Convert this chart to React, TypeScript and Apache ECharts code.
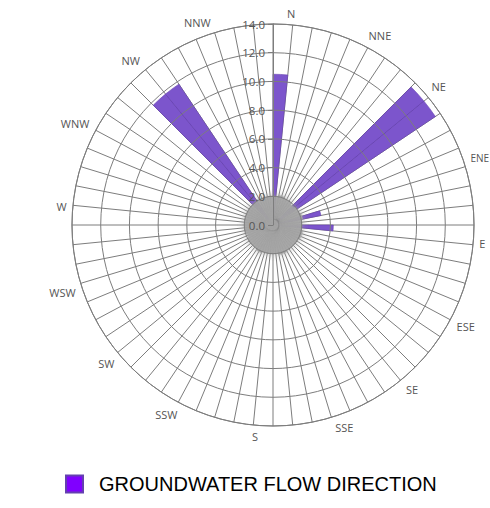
import React, { useEffect, useRef } from "react";
import * as echarts from "echarts";

// 16 compass directions (labels)
const directions = ["N", "NNE", "NE", "ENE", "E", "ESE", "SE", "SSE", "S", "SSW", "SW", "WSW", "W", "WNW", "NW", "NNW"];

// 64 angular bins (5.625 degrees each), starting at North, clockwise
const bins = Array.from({ length: 64 }, (_, i) => String(i));

// Flow-direction frequencies per bin
const flowValues = [
  10.5, 0, 0, 0, 0, 0, 0, 0,
  13.6, 13.6, 0, 0, 0, 3.4, 0, 0,
  4.2, 0, 0, 0, 0, 0, 0, 0,
  0, 0, 0, 0, 0, 0, 0, 0,
  0, 0, 0, 0, 0, 0, 0, 0,
  0, 0, 0, 0, 0, 0, 0, 0,
  0, 0, 0, 0, 0, 0, 0, 0,
  11.8, 11.8, 0, 0, 0, 0, 0, 0,
];

// Grey core around the centre
const coreValues = [
  2.0, 2.0, 2.1, 2.1, 2.0, 2.0, 2.0, 1.9,
  1.9, 2.0, 2.0, 2.0, 2.1, 2.1, 2.0, 2.0,
  2.0, 2.0, 2.1, 2.1, 2.1, 2.0, 2.0, 2.0,
  2.0, 2.0, 2.0, 2.1, 2.1, 2.1, 2.0, 2.0,
  2.0, 2.0, 2.0, 2.0, 2.1, 2.1, 2.0, 2.0,
  2.0, 2.0, 2.0, 1.9, 1.9, 2.0, 2.0, 2.0,
  2.0, 2.0, 2.0, 2.0, 2.0, 2.0, 2.0, 2.0,
  2.0, 2.0, 2.0, 2.0, 2.0, 2.0, 2.0, 2.0,
];

const radialMin = 0;
const radialMax = 14;
const radialStep = 2;

const seriesName = "GROUNDWATER FLOW DIRECTION";

export default function App() {
  const ref = useRef<HTMLDivElement>(null);

  useEffect(() => {
    if (!ref.current) return;
    const chart = echarts.init(ref.current, undefined, { renderer: "svg" });
    const gridColor = "#7d7d7d";
    const labelFont = "'Open Sans', sans-serif";
    chart.setOption({
      animation: false,
      backgroundColor: "#ffffff",
      polar: [
        { center: [273, 225], radius: 201 },
        { center: [273, 225], radius: 201 },
      ],
      angleAxis: [
        {
          polarIndex: 0,
          type: "category",
          data: bins,
          startAngle: 90,
          clockwise: true,
          boundaryGap: true,
          axisLine: { show: true, lineStyle: { color: gridColor, width: 1 } },
          axisTick: { show: false, interval: 0 },
          axisLabel: { show: false, interval: 0 },
          splitLine: { show: true, interval: 0, lineStyle: { color: gridColor, width: 1 } },
        },
        {
          polarIndex: 1,
          type: "value",
          min: 0,
          max: 360,
          interval: 22.5,
          startAngle: 85,
          clockwise: true,
          axisLine: { show: false },
          axisTick: { show: false },
          splitLine: { show: false },
          axisLabel: {
            margin: 6,
            color: "#555555",
            fontSize: 11,
            fontFamily: labelFont,
            formatter: (v: number) => {
              const i = Math.round(v / 22.5);
              if (!(Math.abs(v - i * 22.5) < 0.01 && i < 16)) return "";
              if (directions[i] === "ENE") return "{small|" + directions[i] + "}";
              return directions[i];
            },
            rich: {
              small: { fontSize: 10, color: "#555555", fontFamily: labelFont },
            },
          },
        },
      ],
      radiusAxis: [
        {
          polarIndex: 0,
          type: "value",
          min: radialMin,
          max: radialMax,
          interval: radialStep,
          z: 10,
          axisLine: { show: true, lineStyle: { color: gridColor, width: 1 } },
          axisTick: { show: true, length: 5, lineStyle: { color: gridColor } },
          splitLine: { show: true, lineStyle: { color: gridColor, width: 1 } },
          axisLabel: {
            color: "#555555",
            fontSize: 11.5,
            fontFamily: labelFont,
            formatter: (v: number) => v.toFixed(1),
          },
        },
        { polarIndex: 1, type: "value", min: 0, max: 1, show: false },
      ],
      legend: {
        data: [{ name: seriesName, itemStyle: { color: "#8000ff" } }],
        left: 65,
        top: 474,
        padding: 0,
        itemWidth: 17,
        itemHeight: 17,
        icon: "rect",
        selectedMode: false,
        textStyle: {
          fontSize: 20,
          fontFamily: "'Liberation Sans', Arial, sans-serif",
          color: "#000000",
          padding: [0, 0, 0, 11],
        },
      },
      series: [
        {
          type: "bar",
          name: seriesName,
          coordinateSystem: "polar",
          polarIndex: 0,
          data: flowValues,
          barCategoryGap: "0%",
          barGap: "-100%",
          z: 2,
          itemStyle: { color: "#7c55cc", borderColor: "#6440b0", borderWidth: 0.6 },
        },
        {
          type: "bar",
          name: "core",
          coordinateSystem: "polar",
          polarIndex: 0,
          data: coreValues,
          barCategoryGap: "0%",
          barGap: "-100%",
          z: 3,
          silent: true,
          itemStyle: {
            color: "rgba(165,165,165,0.92)",
            borderColor: "rgba(165,165,165,0.92)",
            borderWidth: 0.5,
            shadowBlur: 6,
            shadowColor: "rgba(160,160,160,0.8)",
          },
        },
      ],
    });
    return () => chart.dispose();
  }, []);

  return (
    <div
      ref={ref}
      style={{ position: "fixed", left: 0, top: 0, width: 490, height: 508, background: "#fff" }}
    />
  );
}
